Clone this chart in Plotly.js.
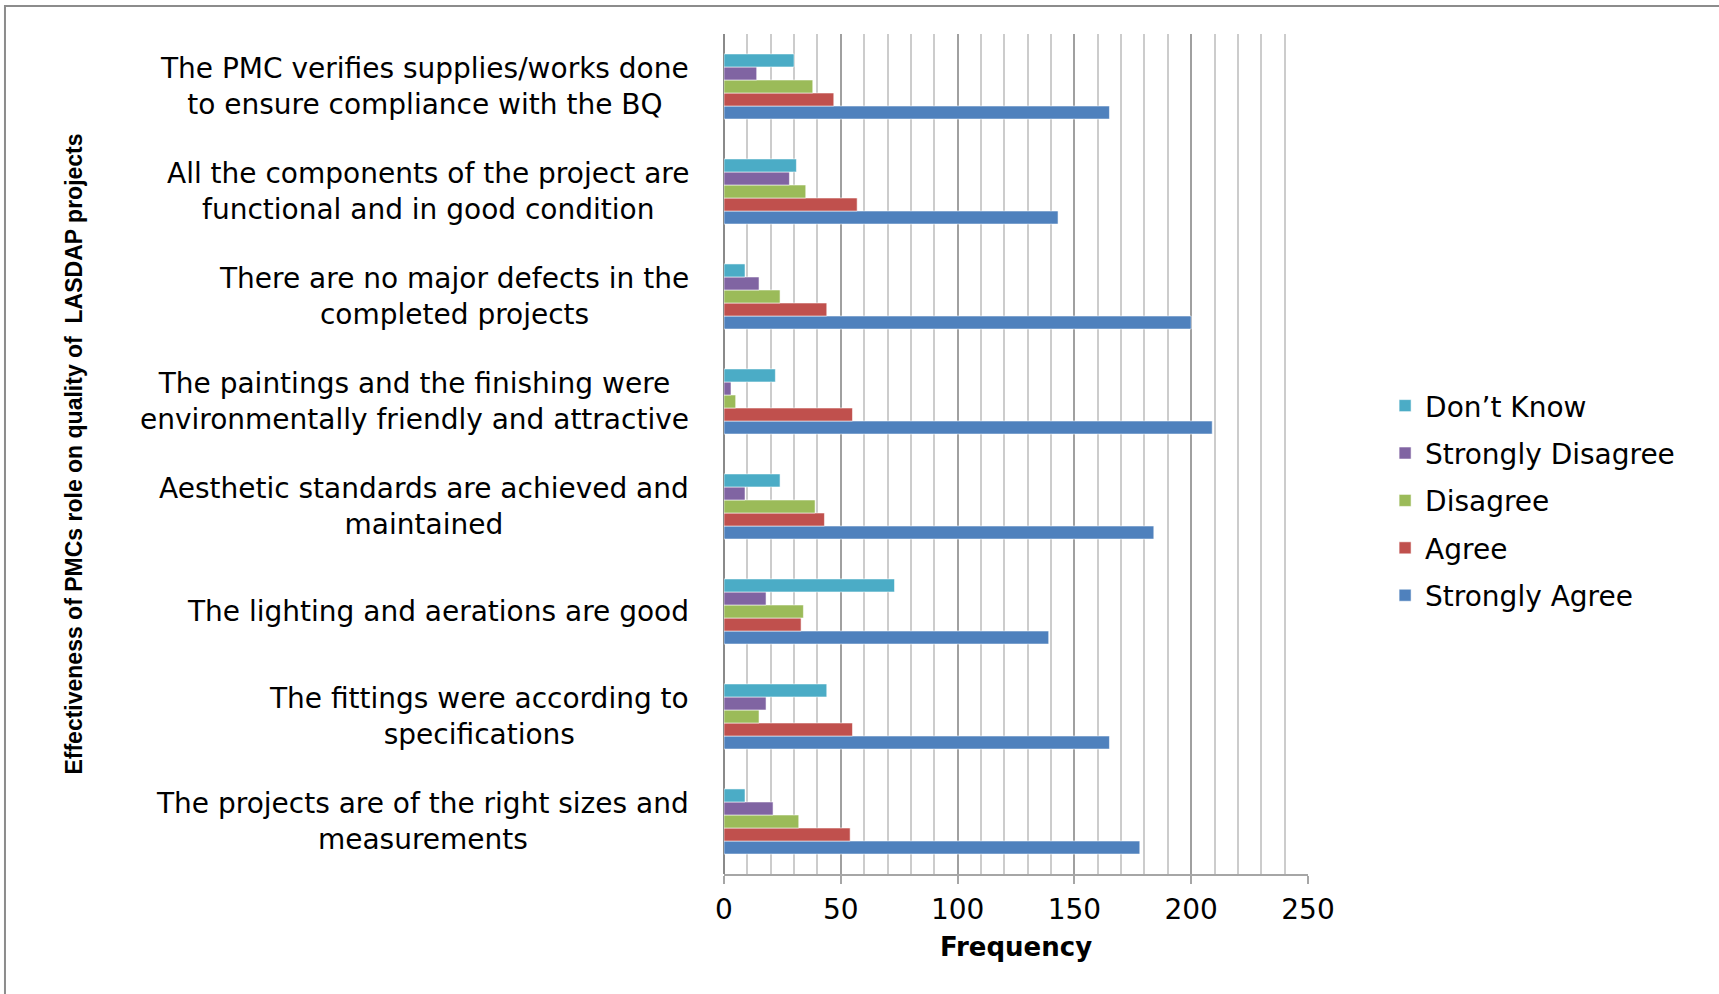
<!DOCTYPE html>
<html>
<head>
<meta charset="utf-8">
<script src="https://cdn.plot.ly/plotly-3.0.1.min.js"></script>
<style>
  html, body { margin: 0; padding: 0; background: #ffffff; }
  #chart { width: 1719px; height: 994px; }
</style>
</head>
<body>
<div id="chart"></div>
<script>
// ---- Data ----
const categories = [
  "The PMC verifies supplies/works done<br>to ensure compliance with the BQ",
  "All the components of the project are<br>functional and in good condition",
  "There are no major defects in the<br>completed projects",
  "The paintings and the finishing were<br>environmentally friendly and attractive",
  "Aesthetic standards are achieved and<br>maintained",
  "The lighting and aerations are good",
  "The fittings were according to<br>specifications",
  "The projects are of the right sizes and<br>measurements"
];
const strongly_agree    = [165, 143, 200, 209, 184, 139, 165, 178];
const agree             = [47, 57, 44, 55, 43, 33, 55, 54];
const disagree          = [38, 35, 24, 5, 39, 34, 15, 32];
const strongly_disagree = [14, 28, 15, 3, 9, 18, 18, 21];
const dont_know         = [30, 31, 9, 22, 24, 73, 44, 9];

const seriesNames = ["Strongly Agree", "Agree", "Disagree", "Strongly Disagree", "Don\u2019t Know"];
const seriesValues = [strongly_agree, agree, disagree, strongly_disagree, dont_know];
const seriesColors = ["#4F81BD", "#C0504D", "#9BBB59", "#8064A2", "#4BACC6"];
const legendRanks = [5, 4, 3, 2, 1];

const xTickValues = [0, 50, 100, 150, 200, 250];
const xAxisTitle = "Frequency";
const yAxisTitle = "Effectiveness of PMCs role on quality of  LASDAP projects";

// ---- Traces ----
const traces = seriesNames.map((name, i) => ({
  type: "bar",
  orientation: "h",
  name: name,
  legendgroup: "g" + i,
  legendrank: legendRanks[i],
  x: seriesValues[i],
  y: categories,
  marker: { color: seriesColors[i], line: { color: "rgba(255,255,255,0.55)", width: 1 } },
  hoverinfo: "x+name"
}));

const FONT = "DejaVu Sans, Verdana, sans-serif";

const annotations = categories.map(c => ({
  x: 0, xref: "paper", xshift: -33, xanchor: "right",
  y: c, yref: "y", yanchor: "middle",
  text: c, align: "center", showarrow: false,
  font: { family: FONT, size: 28, color: "#000000" }
}));

const layout = {
  width: 1719,
  height: 994,
  margin: { l: 724, r: 411, t: 34, b: 120, pad: 0 },
  paper_bgcolor: "#ffffff",
  plot_bgcolor: "#ffffff",
  barmode: "group",
  bargap: 0.38,
  bargroupgap: 0,
  showlegend: true,
  legend: {
    traceorder: "grouped",
    x: 1.132, xanchor: "left",
    y: 0.587, yanchor: "top",
    tracegroupgap: 8,
    font: { family: FONT, size: 28, color: "#000000" },
    bgcolor: "rgba(0,0,0,0)"
  },
  xaxis: {
    range: [0, 250],
    tickvals: xTickValues,
    ticktext: xTickValues.map(String),
    showgrid: true,
    gridcolor: "#a0a0a0",
    gridwidth: 2,
    minor: { dtick: 10, showgrid: true, gridcolor: "#cccccc", gridwidth: 2, ticks: "" },
    zeroline: true,
    zerolinecolor: "#8a8a8a",
    zerolinewidth: 2,
    showline: true,
    linecolor: "#a6a6a6",
    linewidth: 2,
    ticks: "outside",
    ticklen: 8,
    tickwidth: 2,
    tickcolor: "#a6a6a6",
    ticklabelstandoff: 1,
    tickfont: { family: FONT, size: 28, color: "#000000" },
    fixedrange: true,
    automargin: false,
    title: {
      text: xAxisTitle,
      standoff: 13,
      font: { family: FONT, size: 26, color: "#000000", weight: "bold" }
    }
  },
  yaxis: {
    type: "category",
    categoryorder: "array",
    categoryarray: categories.slice().reverse(),
    showticklabels: false,
    showgrid: false,
    zeroline: false,
    showline: false,
    ticks: "",
    fixedrange: true,
    automargin: false,
    title: {
      text: yAxisTitle,
      standoff: 633,
      font: { family: "Liberation Sans Narrow, Arial Narrow, sans-serif", size: 23, color: "#000000", weight: "bold" }
    }
  },
  annotations: annotations,
  shapes: [{
    type: "rect", xref: "paper", yref: "paper",
    x0: -1.2312, x1: 2.0, y0: -0.3, y1: 1.0333,
    line: { color: "#8c8c8c", width: 2 },
    fillcolor: "rgba(0,0,0,0)",
    layer: "below"
  }]
};

Plotly.newPlot("chart", traces, layout, { displayModeBar: false, staticPlot: true });
</script>
</body>
</html>
